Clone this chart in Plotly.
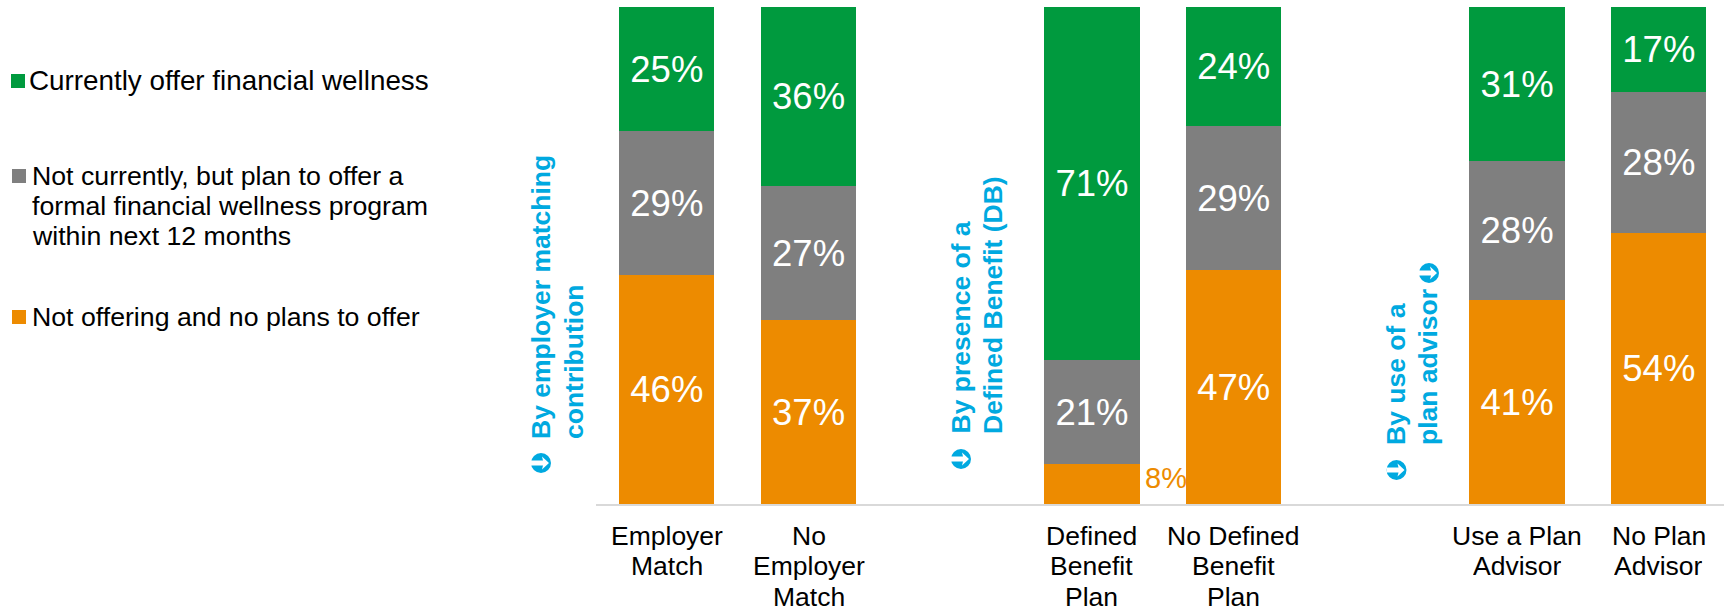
import plotly.graph_objects as go

# Survey breakdown: share of employers by financial wellness offering
categories = ["Employer Match", "No Employer Match", "gap1",
              "Defined Benefit Plan", "No Defined Benefit Plan", "gap2",
              "Use a Plan Advisor", "No Plan Advisor"]
not_offering = [46, 37, None, 8, 47, None, 41, 54]
plan_to_offer = [29, 27, None, 21, 29, None, 28, 28]
currently_offer = [25, 36, None, 71, 24, None, 31, 17]

tick_lines = [["Employer", "Match"], ["No", "Employer", "Match"], [],
              ["Defined", "Benefit", "Plan"], ["No Defined", "Benefit", "Plan"], [],
              ["Use a Plan", "Advisor"], ["No Plan", "Advisor"]]

# colour, lines, first line y, swatch x, text x, font size
legend_entries = [
    ("#009A3E", ["Currently offer financial wellness"], 81, 11, 27, 27.8),
    ("#7F7F7F", ["Not currently, but plan to offer a",
                 "formal financial wellness program",
                 "within next 12 months"], 176, 12, 29.5, 26.7),
    ("#ED8B00", ["Not offering and no plans to offer"], 317, 12, 29.5, 26.7),
]

# lines, x of first line, gap between lines, bottom of text
group_titles = [
    (["By employer matching", "contribution"], 541, 32.5, 441),
    (["By presence of a", "Defined Benefit (DB)"], 960.5, 32.5, 436),
    (["By use of a", "plan advisor"], 1396, 32, 447),
]
badges = [(541, 463), (961, 459), (1396.5, 470), (1429, 273)]

W, H = 1724, 610
LEFT, TOP, BOTTOM = 596, 7, 106
CYAN = "#00A9E0"
TEXT = "#000000"
FONT = "Liberation Sans"


def px_x(v):
    return (v - LEFT) / (W - LEFT)


def px_y(v):
    return (H - BOTTOM - v) / (H - BOTTOM - TOP)


def label(values, hide=()):
    return ["" if v is None or v in hide else f"{v}%" for v in values]


xpos = list(range(len(categories)))
fig = go.Figure()
for name, values, color, hide in [
    ("Not offering and no plans to offer", not_offering, "#ED8B00", (8,)),
    ("Not currently, but plan to offer", plan_to_offer, "#7F7F7F", ()),
    ("Currently offer financial wellness", currently_offer, "#009A3E", ()),
]:
    fig.add_bar(x=xpos, y=values, name=name, width=0.672,
                marker=dict(color=color, line=dict(width=0)),
                text=label(values, hide), textposition="inside",
                insidetextanchor="middle", textangle=0,
                insidetextfont=dict(family=FONT, size=36.5, color="white"),
                showlegend=False)

annotations = []
shapes = []


def note(text, x, y, size, color=TEXT, xanchor="center", yanchor="middle",
         xref="paper", yref="paper", textangle=0, bold=False, height=None):
    annotations.append(dict(text=f"<b>{text}</b>" if bold else text, x=x, y=y,
                            xref=xref, yref=yref, showarrow=False,
                            xanchor=xanchor, yanchor=yanchor, textangle=textangle,
                            height=height,
                            font=dict(family=FONT, size=size, color=color)))


# Category labels with tight line spacing; the third line sits against the page edge
for i, lines in enumerate(tick_lines):
    for j, line in enumerate(lines):
        note(line, i, px_y(536 + j * 30.3), 26.5, xref="x", height=25 if j == 2 else 28)

# Small segment's value sits beside its bar
note(f"{not_offering[3]}%", 3.523, px_y(478), 29, color="#ED8B00", xref="x")

# Key at the left
for color, lines, y, swatch_x, text_x, size in legend_entries:
    shapes.append(dict(type="rect", xref="paper", yref="paper",
                       x0=px_x(swatch_x), x1=px_x(swatch_x + 14),
                       y0=px_y(y - 7), y1=px_y(y + 7),
                       fillcolor=color, line=dict(width=0)))
    for j, line in enumerate(lines):
        note(line, px_x(text_x), px_y(y + j * 30), size, xanchor="left")

# Rotated group titles
for lines, base, gap, bottom in group_titles:
    for j, line in enumerate(lines):
        note(line, px_x(base + j * gap), px_y(bottom), 26.5, color=CYAN,
             yanchor="bottom", textangle=-90, bold=True)

# Round badges holding a white arrow
ARROW = [(-10, -2.5), (2, -2.5), (1, -6.5), (8, 0), (1, 6.5), (2, 2.5), (-10, 2.5)]
for cx, cy in badges:
    shapes.append(dict(type="circle", xref="paper", yref="paper",
                       x0=px_x(cx - 10), x1=px_x(cx + 10),
                       y0=px_y(cy - 10), y1=px_y(cy + 10),
                       fillcolor=CYAN, line=dict(width=0)))
    points = [f"{px_x(cx + dx):.5f},{px_y(cy + dy):.5f}" for dx, dy in ARROW]
    shapes.append(dict(type="path", xref="paper", yref="paper",
                       path="M" + " L".join(points) + " Z",
                       fillcolor="white", line=dict(width=0)))

fig.update_layout(
    width=W, height=H, autosize=False,
    margin=dict(l=LEFT, r=0, t=TOP, b=BOTTOM, pad=0),
    barmode="stack", barnorm="percent",
    paper_bgcolor="white", plot_bgcolor="white",
    annotations=annotations, shapes=shapes,
    xaxis=dict(range=[-0.5, 7.46], showticklabels=False, ticks="",
               showgrid=False, zeroline=False, showline=True,
               linecolor="#D9D9D9", linewidth=2),
    yaxis=dict(range=[0, 100.01], visible=False, showgrid=False, zeroline=False),
)
fig.write_html("out.html", config=dict(displayModeBar=False))
